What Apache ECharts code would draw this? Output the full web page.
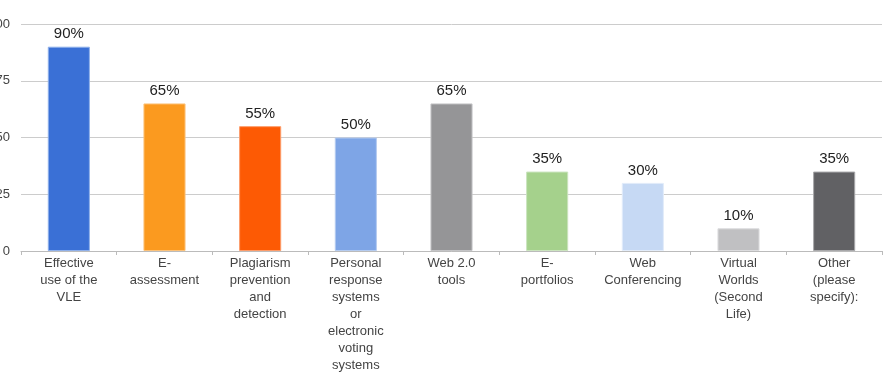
<!DOCTYPE html>
<html>
<head>
<meta charset="utf-8">
<script src="https://cdn.jsdelivr.net/npm/echarts@6/dist/echarts.min.js"></script>
<style>
html,body{margin:0;padding:0;background:#fff;}
#chart{width:886px;height:378px;}
</style>
</head>
<body>
<div id="chart"></div>
<script>
var categories = [
	"Effective\nuse of the\nVLE",
	"E-\nassessment",
	"Plagiarism\nprevention\nand\ndetection",
	"Personal\nresponse\nsystems\nor\nelectronic\nvoting\nsystems",
	"Web 2.0\ntools",
	"E-\nportfolios",
	"Web\nConferencing",
	"Virtual\nWorlds\n(Second\nLife)",
	"Other\n(please\nspecify):"
];
var values = [90, 65, 55, 50, 65, 35, 30, 10, 35];
var barColors = ["#3a70d6", "#fb9a1f", "#fd5a04", "#7ea5e6", "#959597", "#a5d18c", "#c6d9f4", "#c0c0c2", "#616164"];
var edgeColors = ["#8fb0ea", "#fcc27a", "#fd9c6a", "#b4cbf0", "#c4c4c6", "#cbe4be", "#e2ecfa", "#dcdcde", "#a8a8aa"];
var yTicks = [0, 25, 50, 75, 100];

var charts = echarts.init(document.getElementById("chart"));
var data = [];
for (var i = 0; i < values.length; i++) {
	data.push({
		value: values[i],
		itemStyle: { color: barColors[i], borderColor: edgeColors[i], borderWidth: 1 }
	});
}
var option = {
	animation: false,
	textStyle: { fontFamily: "'Liberation Sans', Arial, sans-serif" },
	grid: { left: 21, right: 4, top: 24, bottom: 127, containLabel: false, outerBoundsMode: 'none' },
	xAxis: {
		type: 'category',
		data: categories,
		axisLine: { lineStyle: { color: '#bbbbbb' } },
		axisTick: { show: true, length: 4, lineStyle: { color: '#bbbbbb' } },
		axisLabel: { color: '#444444', fontSize: 13, lineHeight: 17, margin: 4, interval: 0 }
	},
	yAxis: {
		type: 'value',
		min: yTicks[0],
		max: yTicks[yTicks.length - 1],
		interval: 25,
		axisLine: { show: false },
		axisTick: { show: false },
		axisLabel: { color: '#444444', fontSize: 13, margin: 11 },
		splitLine: { lineStyle: { color: '#cccccc' } }
	},
	series: [{
		type: 'bar',
		data: data,
		barWidth: '44%',
		label: {
			show: true,
			position: 'top',
			distance: 5,
			formatter: '{c}%',
			color: '#222222',
			fontSize: 15
		}
	}]
};
charts.setOption(option);
</script>
</body>
</html>
